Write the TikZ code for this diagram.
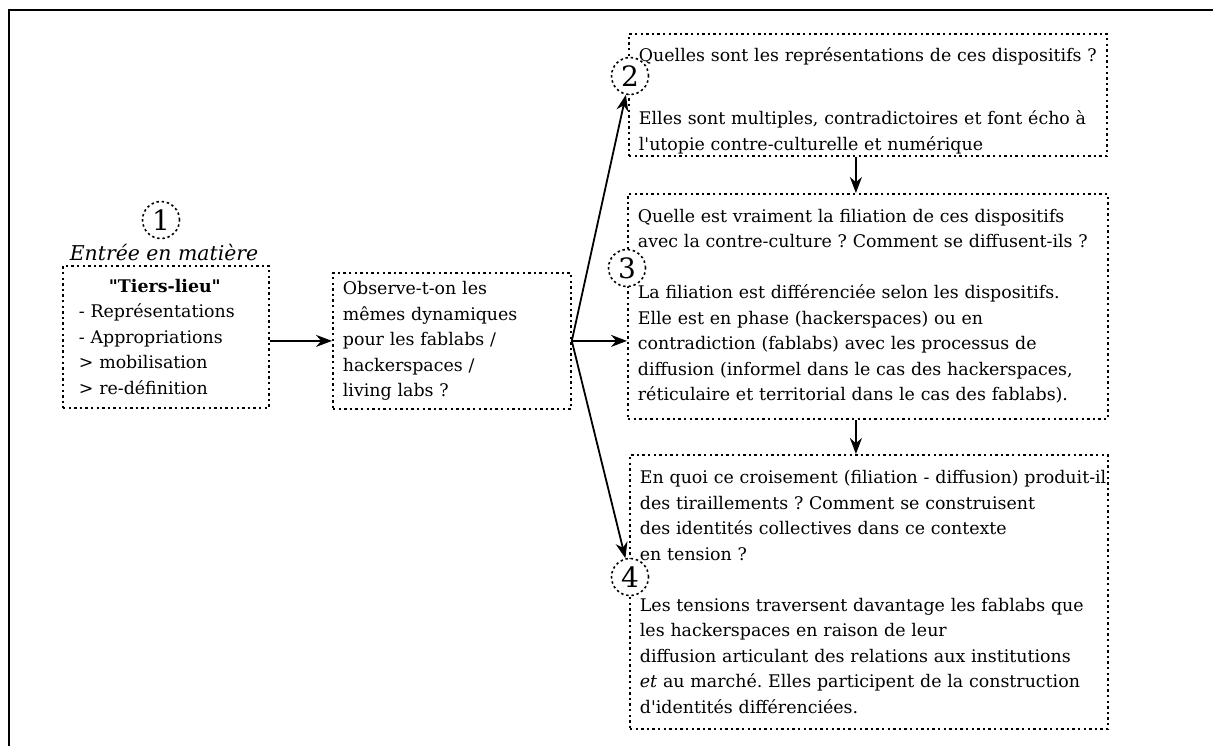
\documentclass[tikz,border=0pt]{standalone}
\usepackage{fontspec}
\setmainfont{DejaVu Serif}[Ligatures=TeXOff]
\usetikzlibrary{arrows.meta}

\begin{document}
\frenchspacing
\begin{tikzpicture}[x=0.5pt,y=-0.5pt,>={Stealth[length=8pt,width=6pt]},
    text box/.style={draw,dash pattern=on 1.2pt off 1.6pt,line width=0.9pt,anchor=north west,align=left,inner xsep=5pt,font=\fontsize{8.7}{12.75}\selectfont},
    num node/.style={circle,draw,fill=white,dash pattern=on 1.2pt off 1.4pt,line width=0.8pt,inner sep=0pt,minimum size=18.5pt,font=\fontsize{14}{16}\selectfont},
    link/.style={->,line width=0.9pt}]
    \useasboundingbox (0,0) rectangle (1213,746);
    \draw[line width=1.3pt] (9,746) -- (9,10) -- (1213,10);

    % left part
    \node[text box,text width=87pt,minimum height=71pt,inner xsep=8pt] (tiers) at (62,265)
        {\hspace*{15pt}\textbf{"Tiers-lieu"}\\- Représentations\\- Appropriations\\> mobilisation\\> re-définition};
    \node[font=\itshape\fontsize{10.2}{12}\selectfont] (entree) at (164,252) {Entrée en matière};
    \node[num node] (c1) at (161,220) {1};

    \node[text box,text width=109pt,minimum height=68pt] (obs) at (332,272)
        {Observe-t-on les\\mêmes dynamiques\\pour les fablabs /\\hackerspaces /\\living labs ?};

    % right column
    \node[text box,text width=229pt,minimum height=61pt,inner ysep=0pt] (q2) at (628,33)
        {\rule{0pt}{13pt}Quelles sont les représentations de ces dispositifs ?\\[18.75pt]
         Elles sont multiples, contradictoires et font écho à\\l'utopie contre-culturelle et numérique};
    \node[text box,text width=230pt,minimum height=112.5pt] (q3) at (627,193)
        {Quelle est vraiment la filiation de ces dispositifs\\avec la contre-culture ? Comment se diffusent-ils ?\\[12.75pt]
         La filiation est différenciée selon les dispositifs.\\Elle est en phase (hackerspaces) ou en\\contradiction (fablabs) avec les processus de\\diffusion (informel dans le cas des hackerspaces,\\réticulaire et territorial dans le cas des fablabs).};
    \node[text box,text width=229pt,minimum height=137pt] (q4) at (629,454)
        {\mbox{En quoi ce croisement (filiation - diffusion) produit-il}\\des tiraillements ? Comment se construisent\\des identités collectives dans ce contexte\\en tension ?\\[12.75pt]
         Les tensions traversent davantage les fablabs que\\les hackerspaces en raison de leur\\diffusion articulant des relations aux institutions\\\emph{et} au marché. Elles participent de la construction\\d'identités différenciées.};

    \node[num node] (c2) at (630,76) {2};
    \node[num node] (c3) at (627,268) {3};
    \node[num node] (c4) at (630,577) {4};

    \draw[link] (tiers.east |- obs.west) -- (obs.west);
    \draw[link] (obs.east) -- (c2);
    \draw[link] (obs.east) -- (obs.east -| q3.west);
    \draw[link] (obs.east) -- (c4);
    \draw[link] ([xshift=-6pt]q2.south) -- ([xshift=-6pt]q2.south |- q3.north);
    \draw[link] ([xshift=-6pt]q3.south) -- ([xshift=-6pt]q3.south |- q4.north);
\end{tikzpicture}
\end{document}
